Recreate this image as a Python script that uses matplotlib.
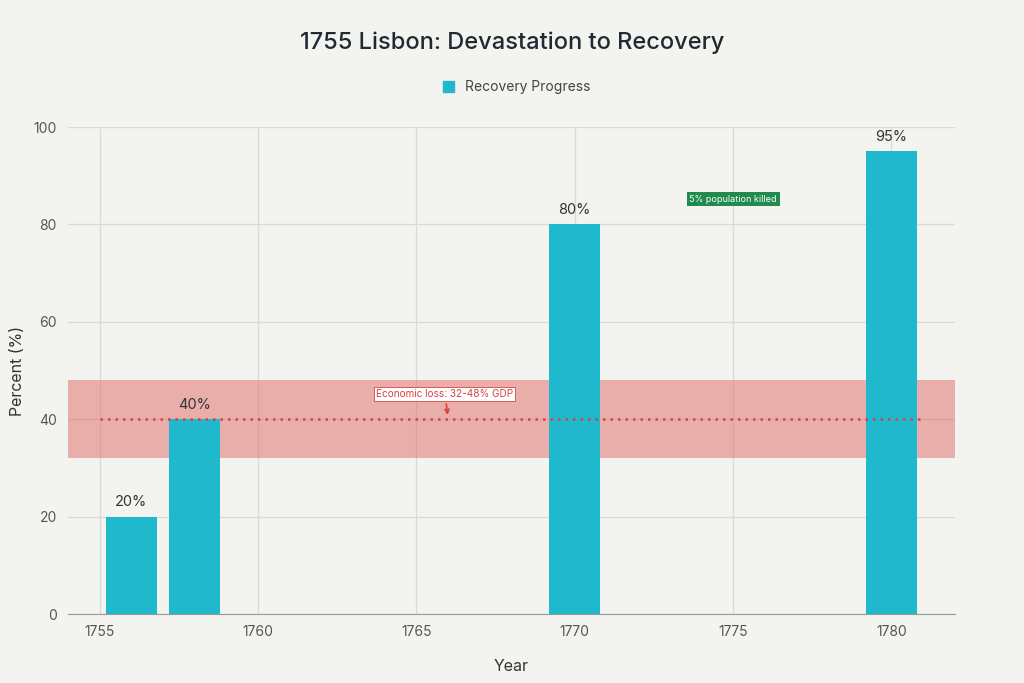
import matplotlib.pyplot as plt
from matplotlib.patches import Patch

plt.rcParams['font.family'] = ['Inter', 'DejaVu Sans']

years = [1756, 1758, 1770, 1780]
recovery = [20, 40, 80, 95]
labels = ['20%', '40%', '80%', '95%']
loss_low, loss_high, loss_mid = 32, 48, 40
line_x = [1755, 1781]

bg = '#f3f3ef'
teal = '#1fb8cd'

fig = plt.figure(figsize=(10.24, 6.83), dpi=100, facecolor=bg)
ax = fig.add_axes([0.0664, 0.101, 0.866, 0.713], facecolor=bg)

ax.axhspan(loss_low, loss_high, color='#e06b66', alpha=0.5, lw=0, zorder=1)
ax.bar(years, recovery, width=1.6, color=teal, zorder=2)
ax.plot(line_x, [loss_mid, loss_mid], color='#d9413f', ls=(0, (1, 2)), lw=1.8, zorder=3)

for x, y, t in zip(years, recovery, labels):
    ax.text(x, y + 1.5, t, ha='center', va='bottom', fontsize=10.5, color='#333333', zorder=4)

ax.annotate('Economic loss: 32-48% GDP', xy=(1766, 40.3), xytext=(1765.9, 45.2),
            ha='center', va='center', fontsize=7.2, color='#d9413f',
            bbox=dict(boxstyle='square,pad=0.2', fc='white', ec='#d9413f', lw=0.6),
            arrowprops=dict(arrowstyle='->', color='#d9413f', lw=1.2), zorder=5)
ax.text(1775, 85.2, '5% population killed', ha='center', va='center', fontsize=6.5,
        color='white', bbox=dict(boxstyle='square,pad=0.3', fc='#208a4f', ec='none'), zorder=5)

ax.set_xlim(1754, 1782)
ax.set_ylim(0, 100)
ax.set_xticks([1755, 1760, 1765, 1770, 1775, 1780])
ax.set_yticks([0, 20, 40, 60, 80, 100])
ax.grid(True, color='#d9d9d6', lw=0.9, zorder=0)
ax.set_axisbelow(True)
for s in ['top', 'right', 'left']:
    ax.spines[s].set_visible(False)
ax.spines['bottom'].set_color('#999999')
ax.tick_params(axis='both', length=0, labelsize=10, colors='#555555', pad=8)
ax.tick_params(axis='y', pad=8)
ax.set_xlabel('Year', fontsize=11.5, color='#333333', labelpad=14)
ax.set_ylabel('Percent (%)', fontsize=11.5, color='#333333', labelpad=6)

fig.text(0.5, 0.937, '1755 Lisbon: Devastation to Recovery', ha='center', va='center',
         fontsize=17, fontweight='medium', color='#1f2a33')
fig.legend(handles=[Patch(color=teal, label='Recovery Progress')], loc='center',
           bbox_to_anchor=(0.505, 0.872), frameon=False, fontsize=10, handlelength=0.8,
           handleheight=0.8, labelcolor='#444444')

fig.savefig('out.png', dpi=100, facecolor=bg)
